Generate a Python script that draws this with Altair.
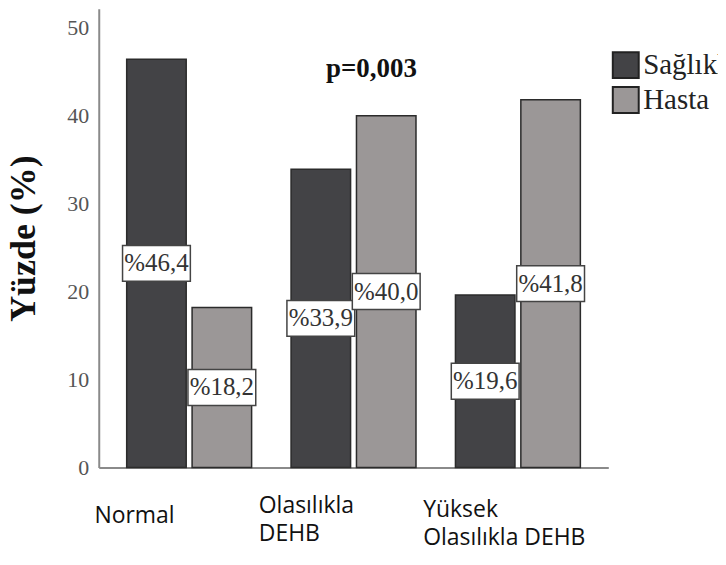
import altair as alt
import pandas as pd

groups = ["Normal", "Olasılıkla|DEHB", "Yüksek|Olasılıkla DEHB"]
series = ["Sağlıklı", "Hasta"]
saglikli = [46.4, 33.9, 19.6]
hasta = [18.2, 40.0, 41.8]
colors = ["#434346", "#9b9797"]
p_text = "p=0,003"
p_y = 45.3

rows = []
for g, a, b in zip(groups, saglikli, hasta):
    for s, v in zip(series, [a, b]):
        rows.append({"grup": g, "seri": s, "deger": v,
                     "etiket": "%" + f"{v:.1f}".replace(".", ",")})
df = pd.DataFrame(rows)
pdf = pd.DataFrame([{"grup": groups[1], "y": p_y, "t": p_text}])

xenc = alt.X("grup:N", sort=groups, title=None,
             scale=alt.Scale(paddingInner=0.24, paddingOuter=0.17),
             axis=alt.Axis(labelExpr="split(datum.label, '|')", labelAlign="left",
                           labelAngle=0, labelOffset=-95, labelBaseline="top",
                           labelLineHeight=28,
                           labelPadding={"condition": [
                               {"test": "datum.value == 'Normal'", "value": 37},
                               {"test": "datum.value == 'Olasılıkla|DEHB'", "value": 27}],
                               "value": 31},
                           labelFont="Open Sans", labelFontSize=23, labelColor="#111",
                           labelLimit=400, labelOverlap=False,
                           ticks=False, tickSize=0, domainColor="#8a8a8a", domainWidth=2,
                           grid=False))
xoff = alt.XOffset("seri:N", sort=series, scale=alt.Scale(paddingInner=0.09))
ysc = alt.Scale(domain=[0, 52.15], nice=False, zero=True)
yenc = alt.Y("deger:Q", scale=ysc, title="Yüzde (%)",
             axis=alt.Axis(values=[0, 10, 20, 30, 40, 50], ticks=False, tickSize=0,
                           grid=False, labelFont="Liberation Serif", labelFontSize=22,
                           labelColor="#555", labelPadding=10, domainColor="#8a8a8a",
                           domainWidth=2, titleFont="Liberation Serif", titleFontSize=36,
                           titleFontWeight="bold", titleColor="#111", titlePadding=24))

base = alt.Chart(df)
bars = base.mark_bar(stroke="#2b2b2b", strokeWidth=1.5).encode(
    x=xenc, xOffset=xoff, y=yenc,
    color=alt.Color("seri:N", sort=series,
                    scale=alt.Scale(domain=series, range=colors),
                    legend=alt.Legend(orient="none", legendX=514, legendY=42, title=None,
                                      symbolType="square", symbolSize=676,
                                      symbolStrokeColor="#222", symbolStrokeWidth=2,
                                      symbolOpacity=1, labelFont="Liberation Serif",
                                      labelFontSize=29, labelColor="#222", rowPadding=0,
                                      labelOffset=3, padding=0, labelLimit=300)))

box_path = "M-1,-0.53L1,-0.53L1,0.53L-1,0.53Z"
boxes = base.transform_calculate(mid="datum.deger / 2").mark_point(
    shape=box_path, size=4624, fill="white", stroke="#444", strokeWidth=1.5,
    fillOpacity=1, opacity=1).encode(
    x=alt.X("grup:N", sort=groups), xOffset=alt.XOffset("seri:N", sort=series),
    y=alt.Y("mid:Q", scale=ysc))
texts = base.transform_calculate(mid="datum.deger / 2").mark_text(
    font="Liberation Serif", fontSize=25, color="#333", baseline="middle").encode(
    x=alt.X("grup:N", sort=groups), xOffset=alt.XOffset("seri:N", sort=series),
    y=alt.Y("mid:Q", scale=ysc), text="etiket:N")
ptext = alt.Chart(pdf).mark_text(font="Liberation Serif", fontSize=27, fontWeight="bold",
                                 color="#111", dx=18, baseline="middle").encode(
    x=alt.X("grup:N", sort=groups), y=alt.Y("y:Q", scale=ysc), text="t:N")

chart = alt.layer(bars, boxes, texts, ptext).properties(
    width=511, height=460,
    autosize=alt.AutoSizeParams(type="none"),
    padding={"left": 91, "top": 0, "right": 110, "bottom": 82},
).configure_view(stroke=None)

chart.save("out.html", embed_options={"renderer": "svg", "actions": False})
